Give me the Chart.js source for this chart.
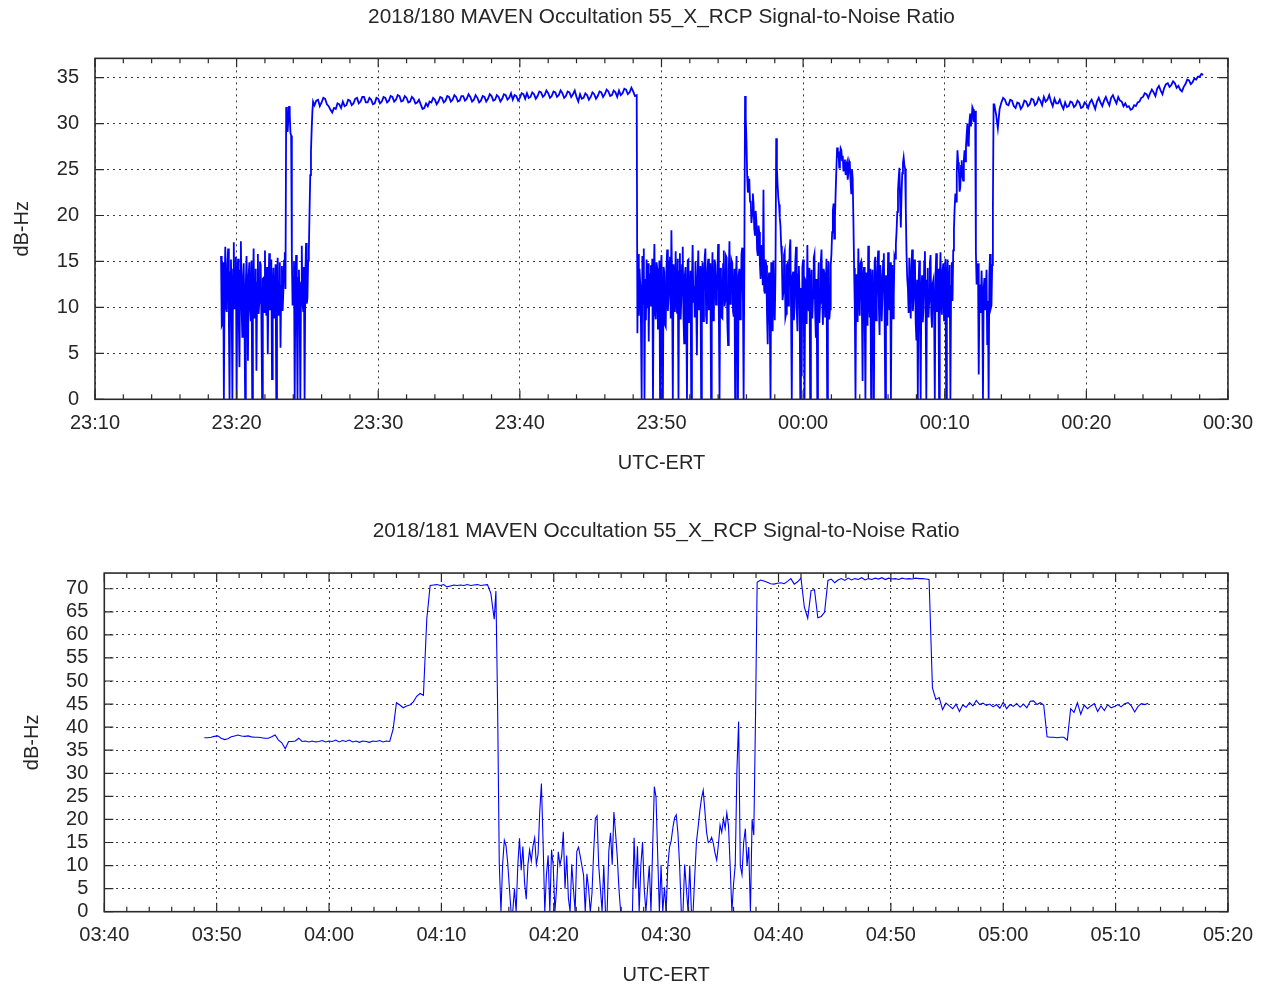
<!DOCTYPE html>
<html>
<head>
<meta charset="utf-8">
<title>MAVEN Occultation 55_X_RCP Signal-to-Noise Ratio</title>
<script src="https://cdn.jsdelivr.net/npm/chart.js@4.4.1/dist/chart.umd.min.js"></script>
<style>
    html, body { margin: 0; padding: 0; background: #fff; }
    body { width: 1265px; height: 989px; position: relative; overflow: hidden; }
    .panel { position: absolute; left: 0; }
    #panel-180 { top: 0; }
    #panel-181 { top: 500px; }
</style>
</head>
<body>
<div class="panel" id="panel-180"><canvas id="snr-180" width="1265" height="500"></canvas></div>
<div class="panel" id="panel-181"><canvas id="snr-181" width="1265" height="489"></canvas></div>
<script>
// Tiempos en minutos desde las 00:00 del dia 180 (los del 181 desde las 00:00 del 181)
// Cada tramo: inicio y paso de muestreo, y los valores de SNR (dB-Hz)

// ---- 2018/180 ----
const tramosInicio180 = [1398.9, 1405.5, 1428.3, 1453.5];
const tramosPaso180 = [0.05, 0.125, 0.05, 0.125];

// 23:18.9 - 23:25.4 (ruido, pico a 32 y subida)
const snr180A = [
    15.6, 8.0, 8.2, 14.9, 0, 12.4, 16.6, 10.1, 9.5, 14.7, 16.4, 9.2, 0, 13.8, 15.2, 10.6, 0, 14.1, 17.1, 9.8,
    11.2, 15.5, 0, 12.9, 15.3, 9.0, 3.5, 14.0, 17.2, 10.3, 6.8, 13.2, 14.8, 9.4, 0, 12.6, 15.6, 10.8, 4.2, 13.5,
    14.9, 9.9, 8.5, 15.1, 0, 11.3, 16.4, 8.8, 9.8, 14.2, 3.1, 12.7, 15.8, 9.3, 10.5, 15.0, 14.6, 8.7, 0, 13.1,
    13.2, 9.5, 16.2, 10.8, 9.1, 14.4, 4.9, 12.0, 15.9, 9.7, 11.4, 15.2, 2.2, 11.6, 14.3, 8.9, 9.3, 14.7, 0, 12.8,
    15.4, 9.1, 10.2, 14.9, 5.6, 12.3, 14.5, 9.6, 11.8, 15.1, 16.0, 12.0, 31.8, 31.2, 29.1, 30.4, 31.9, 31.0, 29.0, 28.7,
    15.6, 10.2, 11.8, 15.0, 0, 12.5, 15.7, 9.4, 0, 13.2, 14.1, 9.8, 0, 12.7, 16.7, 10.5, 9.6, 14.4, 0, 13.0,
    17.0, 10.4, 11.0, 15.1, 16.2, 20.5, 24.4, 27.0, 29.4, 31.3, 32.4
];

// 23:25.5 - 23:48.25 (meseta)
const snr180B = [
    32.0, 32.5, 32.6, 31.9, 32.3, 32.8, 32.7, 32.1, 31.9, 31.5, 31.2, 31.7, 31.6, 32.2, 32.1, 31.7, 32.4, 31.9, 32.0, 32.6,
    32.5, 32.0, 32.2, 32.7, 32.8, 32.2, 32.4, 32.9, 32.9, 32.3, 32.3, 32.8, 32.6, 32.1, 32.2, 32.8, 32.7, 32.2, 32.4, 32.9,
    32.8, 32.3, 32.5, 33.0, 32.9, 32.4, 32.6, 33.1, 33.0, 32.4, 32.5, 33.0, 32.8, 32.3, 32.4, 32.9, 32.7, 32.2, 32.3, 32.6,
    32.1, 31.6, 31.7, 32.2, 31.9, 32.4, 32.3, 32.8, 32.6, 32.1, 32.4, 32.9, 32.8, 32.3, 32.5, 33.0, 32.9, 32.4, 32.6, 33.1,
    32.9, 32.4, 32.5, 33.0, 33.0, 32.5, 32.7, 33.2, 32.9, 32.4, 32.6, 33.1, 32.8, 32.3, 32.5, 33.0, 32.9, 32.4, 32.7, 33.2,
    33.0, 32.5, 32.6, 33.1, 32.9, 32.4, 32.7, 33.2, 33.1, 32.6, 32.8, 33.3, 32.6, 33.1, 33.0, 32.5, 32.8, 33.3, 33.2, 32.7,
    33.3, 32.8, 32.9, 33.4, 33.2, 32.7, 33.0, 33.5, 33.4, 32.9, 33.1, 33.6, 33.3, 32.8, 33.0, 33.5, 33.4, 32.9, 33.1, 33.6,
    33.3, 32.8, 33.0, 33.5, 33.4, 32.9, 33.2, 33.6, 32.9, 32.4, 33.2, 32.7, 32.8, 33.3, 33.1, 32.6, 32.9, 33.4, 33.2, 32.7,
    33.0, 33.5, 33.4, 32.9, 33.2, 33.7, 33.5, 33.0, 33.1, 33.6, 33.4, 32.9, 33.6, 33.1, 33.3, 33.8, 33.7, 33.2, 33.4, 33.9,
    33.5, 33.0, 33.1
];

// 23:48.3 - 00:13.45 (ocultacion)
const snr180C = [
    7.2, 15.8, 9.1, 14.2, 12.5, 8.3, 0, 15.6, 10.4, 16.4, 0, 13.1, 8.6, 15.2, 9.9, 14.8, 6.3, 13.7, 10.2, 14.6,
    11.5, 15.3, 0, 12.8, 16.9, 9.4, 8.7, 14.9, 14.2, 7.6, 10.6, 15.1, 0, 13.3, 15.7, 9.0, 0, 14.4, 13.8, 8.1,
    7.9, 14.2, 16.3, 9.6, 11.2, 15.0, 15.5, 8.8, 18.4, 12.3, 0, 14.7, 12.7, 9.5, 16.1, 11.4, 9.4, 15.3, 0, 13.9,
    15.9, 8.7, 10.8, 14.6, 16.6, 9.2, 6.1, 13.5, 14.4, 10.0, 0, 15.1, 15.2, 8.4, 9.9, 14.0, 0, 12.9, 16.8, 10.5,
    12.3, 8.9, 15.0, 10.7, 4.8, 13.6, 16.2, 9.8, 10.1, 14.5, 0, 13.2, 14.9, 8.5, 11.7, 15.4, 16.4, 9.1, 8.2, 14.1,
    15.3, 9.7, 12.6, 14.8, 0, 11.9, 16.0, 8.6, 9.5, 15.2, 14.7, 10.3, 11.9, 13.8, 16.9, 9.2, 0, 14.3, 13.6, 8.9,
    8.8, 14.7, 16.2, 10.1, 10.7, 15.6, 15.4, 8.3, 5.9, 13.9, 17.2, 10.4, 11.3, 15.1, 14.8, 9.6, 9.0, 14.2, 0, 12.6,
    15.6, 9.3, 0, 13.5, 14.2, 8.7, 10.4, 15.8, 16.5, 11.2, 0, 14.5, 33.0, 30.6, 28.1, 24.3, 22.5, 23.2, 24.0, 21.5,
    21.6, 19.2, 20.1, 22.4, 21.3, 18.6, 17.8, 20.5, 19.4, 16.3, 15.6, 18.9, 18.2, 14.7, 13.1, 16.8, 16.0, 12.4, 22.8, 11.9,
    11.5, 15.2, 14.6, 9.3, 6.0, 12.7, 13.8, 8.1, 0, 14.9, 12.2, 7.4, 15.1, 10.6, 8.6, 14.0, 28.4, 25.1, 23.3, 21.9,
    21.2, 19.8, 18.9, 16.7, 15.4, 10.8, 11.6, 15.7, 16.1, 8.9, 9.3, 14.6, 14.8, 10.2, 12.0, 16.3, 17.4, 9.5, 0, 13.4,
    13.9, 8.6, 10.2, 15.0, 16.6, 9.8, 7.4, 13.6, 14.5, 10.9, 0, 12.1, 2.5, 14.4, 15.2, 9.1, 0, 13.0, 12.8, 8.2,
    16.8, 10.4, 9.6, 14.3, 0, 12.5, 14.1, 8.8, 11.0, 15.4, 15.8, 9.7, 6.7, 13.1, 0, 11.6, 14.9, 8.3, 10.5, 15.0,
    16.3, 10.9, 8.1, 14.2, 13.7, 9.0, 11.9, 15.3, 0, 12.2, 15.0, 8.7, 9.8, 14.6, 15.8, 18.2, 20.5, 21.3, 17.5, 19.8,
    22.6, 25.1, 27.4, 26.3, 27.0, 25.2, 25.9, 27.3, 27.1, 26.0, 26.5, 24.8, 25.3, 26.1, 24.4, 25.5, 25.8, 23.9, 24.7, 25.9,
    25.6, 23.8, 22.4, 25.0, 24.1, 19.6, 14.3, 9.8, 0, 13.6, 13.2, 8.4, 16.4, 11.7, 9.1, 14.8, 15.0, 10.3, 2.0, 12.9,
    14.4, 9.2, 0, 13.8, 12.6, 8.0, 16.7, 11.5, 8.9, 14.2, 0, 12.7, 14.1, 9.4, 0, 15.0, 15.5, 8.6, 10.9, 14.3,
    16.2, 10.1, 7.0, 14.6, 13.3, 8.5, 11.2, 15.1, 15.9, 9.9, 0, 13.5, 12.4, 8.0, 16.0, 11.3, 9.7, 14.9, 0, 12.0,
    14.6, 8.8, 11.1, 15.6, 15.3, 16.9, 18.3, 20.4, 22.7, 24.1, 25.2, 21.6, 18.7, 22.3, 24.6, 25.7, 26.3, 25.5, 25.1, 20.8,
    16.0, 13.2, 12.1, 9.4, 15.4, 10.8, 8.8, 14.5, 16.3, 9.6, 11.0, 15.2, 14.7, 8.3, 6.4, 13.0, 0, 12.3, 15.1, 9.2,
    0, 11.8, 13.5, 8.4, 9.9, 15.0, 16.1, 10.2, 0, 12.9, 14.3, 8.9, 10.6, 14.8, 15.7, 9.3, 7.8, 12.6, 13.0, 9.7,
    0, 13.4, 15.9, 9.5, 11.7, 14.2, 0, 12.8, 16.0, 10.4, 9.2, 14.1, 14.8, 8.6, 12.5, 15.3, 0, 11.9, 15.2, 9.0,
    10.1, 14.6, 0, 12.3, 14.9, 10.7, 16.2, 18.5, 20.8, 22.4, 21.5, 24.6, 27.1, 25.8, 24.9, 22.6, 23.1, 25.4, 26.0, 24.2,
    23.8, 26.0, 27.1, 25.9, 27.5, 28.8, 30.0, 27.6, 28.2, 30.3, 31.1, 29.7, 30.4, 31.8, 31.6, 30.2, 30.8, 31.4, 16.0, 12.6,
    12.6, 14.8, 2.7, 10.9, 12.5, 9.4, 14.0, 11.2, 0, 12.0, 13.2, 9.8, 11.5, 14.1, 6.0, 10.7, 0, 13.5, 15.8, 9.9,
    10.2, 14.6, 20.6, 32.1
];

// 00:13.5 - 00:28.25 (meseta final)
const snr180D = [
    32.1, 31.0, 29.5, 31.6, 32.3, 32.8, 32.6, 32.1, 32.0, 32.6, 32.5, 31.9, 31.7, 32.3, 32.2, 31.6, 31.9, 32.5, 32.4, 31.9,
    32.1, 32.7, 32.6, 32.0, 32.2, 32.8, 32.5, 32.0, 32.9, 32.4, 32.6, 33.1, 32.4, 31.9, 32.7, 32.2, 32.2, 32.6, 32.0, 31.6,
    32.3, 31.8, 31.9, 32.4, 32.3, 31.8, 32.0, 32.5, 32.3, 31.7, 31.8, 32.3, 32.1, 31.7, 32.3, 32.6, 32.1, 31.6, 32.4, 32.8,
    32.3, 31.9, 32.5, 32.9, 32.4, 32.0, 32.8, 33.1, 32.6, 32.2, 32.9, 32.5, 32.4, 31.9, 32.2, 31.8, 31.9, 31.5, 31.6, 32.0,
    31.9, 32.3, 32.4, 32.8, 32.9, 33.3, 33.2, 32.8, 33.3, 33.7, 33.4, 33.0, 33.8, 34.1, 33.6, 33.2, 33.9, 34.3, 34.4, 34.0,
    34.2, 34.6, 34.4, 33.9, 34.1, 33.7, 33.5, 34.0, 34.3, 34.8, 34.7, 34.3, 34.5, 34.9, 34.8, 35.1, 35.1, 35.4, 35.3
];

// ---- 2018/181 ----
const tramosInicio181 = [228.9, 254.85, 278.4];
const tramosPaso181 = [0.3, 0.15, 0.3];

const snr181A = [
    37.7, 37.7, 37.8, 38.0, 38.1, 37.6, 37.3, 37.5, 37.9, 38.1,
    38.3, 38.1, 38.0, 38.1, 37.9, 37.8, 37.8, 37.7, 37.6, 37.6,
    37.9, 38.3, 37.2, 36.6, 35.3, 36.9, 36.9, 37.0, 37.6, 36.9,
    37.0, 36.8, 37.0, 36.8, 36.9, 37.1, 36.8, 37.0, 36.9, 37.2,
    36.8, 37.1, 36.9, 37.2, 36.8, 37.0, 36.7, 37.0, 36.9, 36.7,
    37.0, 36.9, 37.1, 36.8, 37.0, 36.9, 39.5, 45.3, 44.8, 44.2,
    44.6, 44.8, 45.5, 46.7, 47.3, 46.9, 63.5, 70.7, 70.8, 70.9,
    70.7, 70.9, 70.4, 70.6, 70.8, 70.7, 70.8, 70.7, 70.9, 70.7,
    70.8, 70.9, 70.7, 70.8, 70.9, 69.0, 63.4
];

const snr181B = [
    69.5, 45.0, 10.5, 0, 10.4, 15.5, 14.3, 10.6, 5.2, 0,
    0, 5.0, 0, 10.1, 15.9, 9.0, 14.1, 6.3, 2.7, 10.2,
    13.4, 11.0, 14.2, 16.0, 10.3, 12.4, 21.6, 27.8, 15.0, 0,
    8.1, 12.2, 0, 13.4, 10.0, 0, 5.1, 13.0, 10.1, 12.0,
    17.3, 5.0, 12.2, 3.0, 0, 10.3, 5.0, 0, 13.1, 14.0,
    12.1, 10.0, 8.0, 0, 8.2, 5.0, 0, 4.0, 13.0, 20.2,
    20.8, 10.0, 5.0, 0, 10.1, 0, 0, 13.2, 17.1, 10.2,
    21.6, 17.0, 12.0, 5.0, 0, 0, 0, 0, 0, 0,
    0, 0, 16.0, 5.0, 14.2, 0, 10.0, 15.1, 5.0, 0,
    5.2, 10.0, 0, 14.0, 27.1, 24.8, 12.0, 0, 10.1, 0,
    5.3, 0, 10.0, 14.0, 15.4, 18.2, 20.3, 21.0, 17.0, 10.0,
    0, 0, 10.2, 5.0, 0, 10.0, 0, 0, 8.0, 15.2,
    18.4, 21.9, 24.6, 26.3, 21.8, 17.2, 15.0, 15.3, 16.1, 14.8,
    12.7, 11.2, 14.5, 18.8, 17.2, 20.1, 18.1, 21.4, 18.6, 9.8,
    0, 6.0, 10.2, 30.7, 41.2, 10.0, 8.0, 15.0, 18.0, 10.0,
    14.0, 0, 20.0, 16.6, 41.5, 71.4
];

const snr181C = [
    71.9, 71.7, 71.4, 71.1, 71.0, 71.2, 71.3, 71.1, 71.6, 72.2,
    71.0, 71.5, 72.3, 66.0, 63.6, 69.6, 69.8, 63.7, 64.0, 64.9,
    71.8, 72.1, 71.3, 71.9, 72.2, 71.8, 72.3, 71.9, 72.2, 72.0,
    72.4, 71.9, 72.2, 72.0, 72.3, 72.1, 72.4, 72.0, 72.3, 72.1,
    72.2, 72.0, 72.3, 72.1, 72.2, 72.1, 72.3, 72.2, 72.2, 72.1,
    72.0, 48.5, 46.0, 46.4, 43.8, 45.2, 44.6, 44.0, 45.0, 43.4,
    44.8, 44.3, 45.3, 44.6, 45.8, 44.9, 45.2, 44.7, 45.0, 44.4,
    44.9, 44.1, 45.4, 44.0, 44.9, 44.5, 45.1, 44.3, 45.0, 44.2,
    45.6, 45.7, 44.9, 45.3, 44.8, 37.9, 37.8, 37.8, 37.7, 37.8,
    37.8, 37.2, 44.0, 43.2, 45.3, 42.8, 44.8, 44.0, 44.6, 45.1,
    43.4, 44.6, 43.6, 44.9, 44.2, 44.5, 44.9, 44.4, 45.1, 45.3,
    44.6, 43.3, 44.5, 45.1, 44.9, 45.2
];

const fuente = "'Liberation Sans', Arial, sans-serif";
const colorTexto = '#262626';
const colorGrilla = 'rgba(40, 40, 40, 0.9)';

function horaMinuto(v) {
    const m = ((Math.round(v) % 1440) + 1440) % 1440;
    return String(Math.floor(m / 60)).padStart(2, '0') + ':' + String(m % 60).padStart(2, '0');
}

function armarPuntos(inicios, pasos, tramos) {
    const puntos = [];
    tramos.forEach((valores, t) => {
        valores.forEach((v, i) => {
            puntos.push({ x: inicios[t] + pasos[t] * i, y: v });
        });
    });
    return puntos;
}

// Marco del area y marcas hacia adentro (mayores y menores) como en gnuplot
const marcoYMarcas = {
    id: 'marcoYMarcas',
    afterDraw(chart, args, opts) {
        const { ctx, chartArea: a, scales: { x, y } } = chart;
        ctx.save();
        ctx.strokeStyle = '#2a2a2a';
        ctx.lineWidth = 1.2;
        ctx.beginPath();
        for (let v = x.min; v <= x.max + 1e-6; v += opts.menor) {
            const px = x.getPixelForValue(v);
            const largo = Math.abs((v - x.min) % opts.mayor) < 1e-6 ? 9 : 5;
            ctx.moveTo(px, a.bottom); ctx.lineTo(px, a.bottom - largo);
            ctx.moveTo(px, a.top); ctx.lineTo(px, a.top + largo);
        }
        y.ticks.forEach(t => {
            const py = y.getPixelForValue(t.value);
            ctx.moveTo(a.left, py); ctx.lineTo(a.left + 9, py);
            ctx.moveTo(a.right, py); ctx.lineTo(a.right - 9, py);
        });
        ctx.stroke();
        ctx.lineWidth = 1.6;
        ctx.strokeRect(a.left, a.top, a.right - a.left, a.bottom - a.top);
        ctx.restore();
    }
};

function crearGrafica(id, p) {
    const ctx = document.getElementById(id).getContext('2d');
    return new Chart(ctx, {
        type: 'line',
        data: {
            datasets: [{
                data: p.puntos,
                borderColor: '#0000ff',
                borderWidth: p.grosor,
                pointRadius: 0,
                tension: 0,
                fill: false
            }]
        },
        options: {
            responsive: false,
            animation: false,
            devicePixelRatio: 1,
            parsing: false,
            normalized: true,
            layout: { padding: { left: 0, right: 34.5, top: 0, bottom: p.padAbajo } },
            plugins: {
                legend: { display: false },
                tooltip: { enabled: false },
                title: {
                    display: true,
                    fullSize: false,
                    text: p.titulo,
                    color: colorTexto,
                    font: { family: fuente, size: 20.8, weight: 'normal' },
                    padding: { top: p.tituloArriba, bottom: p.tituloAbajo }
                },
                marcoYMarcas: { menor: 2, mayor: 10 }
            },
            scales: {
                x: {
                    type: 'linear',
                    min: p.xMin,
                    max: p.xMax,
                    afterFit: (s) => { s.height = p.altoX; },
                    grid: { color: colorGrilla, lineWidth: 1, drawTicks: false },
                    border: { display: false, dash: [2, 4] },
                    ticks: {
                        stepSize: 10,
                        autoSkip: false,
                        maxRotation: 0,
                        padding: 12,
                        color: colorTexto,
                        font: { family: fuente, size: 20 },
                        callback: (v) => horaMinuto(v)
                    },
                    title: {
                        display: true,
                        text: 'UTC-ERT',
                        color: colorTexto,
                        font: { family: fuente, size: 20 },
                        padding: 0
                    }
                },
                y: {
                    min: 0,
                    max: p.yMax,
                    afterFit: (s) => { s.width = p.anchoY; },
                    grid: { color: colorGrilla, lineWidth: 1, drawTicks: false },
                    border: { display: false, dash: [2, 4] },
                    ticks: {
                        stepSize: 5,
                        includeBounds: false,
                        autoSkip: false,
                        padding: 16,
                        color: colorTexto,
                        font: { family: fuente, size: 20 }
                    },
                    title: {
                        display: true,
                        text: 'dB-Hz',
                        color: colorTexto,
                        font: { family: fuente, size: 20 },
                        padding: { top: p.padTituloY, bottom: 0 }
                    }
                }
            }
        },
        plugins: [marcoYMarcas]
    });
}

crearGrafica('snr-180', {
    titulo: '2018/180 MAVEN Occultation 55_X_RCP Signal-to-Noise Ratio',
    puntos: armarPuntos(tramosInicio180, tramosPaso180, [snr180A, snr180B, snr180C, snr180D]),
    grosor: 1.8,
    xMin: 1390, xMax: 1470,
    yMax: 37.1,
    anchoY: 95,
    altoX: 76,
    padAbajo: 24.7,
    tituloArriba: 4.7,
    tituloAbajo: 28.7,
    padTituloY: 10
});

crearGrafica('snr-181', {
    titulo: '2018/181 MAVEN Occultation 55_X_RCP Signal-to-Noise Ratio',
    puntos: armarPuntos(tramosInicio181, tramosPaso181, [snr181A, snr181B, snr181C]),
    grosor: 1.1,
    xMin: 220, xMax: 320,
    yMax: 73.4,
    anchoY: 104.3,
    altoX: 75.3,
    padAbajo: 2,
    tituloArriba: 19.2,
    tituloAbajo: 28.9,
    padTituloY: 20.5
});
</script>
</body>
</html>
